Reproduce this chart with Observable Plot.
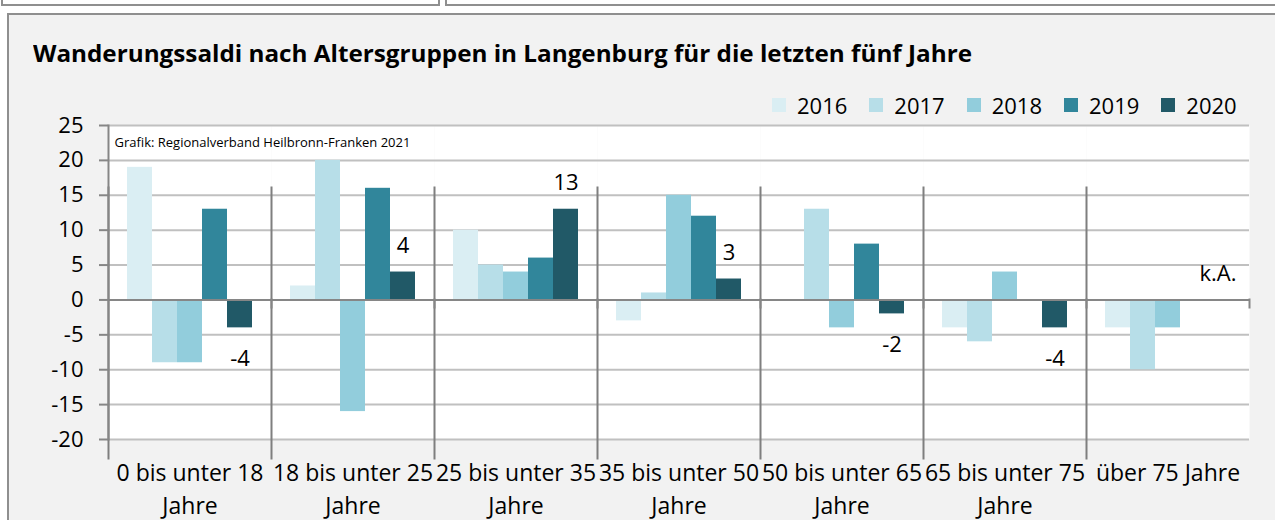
<!DOCTYPE html>
<html><head><meta charset="utf-8">
<script src="https://cdn.jsdelivr.net/npm/d3@7"></script>
<script src="https://cdn.jsdelivr.net/npm/@observablehq/plot@0.6"></script>
<style>
html,body{margin:0;padding:0;background:#fff;}
#root{position:relative;width:1275px;height:520px;overflow:hidden;font-family:"Open Sans",sans-serif;}
.topbox{position:absolute;top:-10px;height:12px;border:2px solid #8f8f8f;background:#fff;}
#chartbox{position:absolute;left:7px;top:13px;width:1290px;height:530px;border:2px solid #8f8f8f;background:#f2f2f2;}
#title{position:absolute;left:33px;top:42px;font-weight:bold;font-size:23px;line-height:1;white-space:nowrap;transform-origin:0 0;color:#000;}
#legend{position:absolute;left:772px;top:88px;width:600px;}
#plot{position:absolute;left:0;top:115px;}
</style></head><body>
<div id="root">
 <div class="topbox" style="left:1px;width:435px"></div>
 <div class="topbox" style="left:445px;width:840px"></div>
 <div id="chartbox"></div>
 <div id="title"></div>
 <div id="legend"></div>
 <div id="plot"></div>
</div>
<script>
const title = "Wanderungssaldi nach Altersgruppen in Langenburg für die letzten fünf Jahre";
const sourceNote = "Grafik: Regionalverband Heilbronn-Franken 2021";
const categories = ["0 bis unter 18 Jahre", "18 bis unter 25 Jahre", "25 bis unter 35 Jahre", "35 bis unter 50 Jahre", "50 bis unter 65 Jahre", "65 bis unter 75 Jahre", "über 75 Jahre"];
const categoryLabels = ["0 bis unter 18\nJahre", "18 bis unter 25\nJahre", "25 bis unter 35\nJahre", "35 bis unter 50\nJahre", "50 bis unter 65\nJahre", "65 bis unter 75\nJahre", "über 75 Jahre"];
const years = ["2016", "2017", "2018", "2019", "2020"];
const colors = ["#daeef3", "#b7dee8", "#92cddc", "#31869b", "#215967"];
const values2016 = [19, 2, 10, -3, 0, -4, -4];
const values2017 = [-9, 20, 5, 1, 13, -6, -10];
const values2018 = [-9, -16, 4, 15, -4, 4, -4];
const values2019 = [13, 16, 6, 12, 8, 0, null];
const values2020 = [-4, 4, 13, 3, -2, -4, null];
const yTicks = [-20, -15, -10, -5, 0, 5, 10, 15, 20, 25];
const noDataLabel = "k.A.";

const series = [values2016, values2017, values2018, values2019, values2020];
const rows = [];
categories.forEach((c, i) => years.forEach((yr, j) => {
  const v = series[j][i];
  if (v != null) rows.push({category: c, year: yr, value: v});
}));
const labelRows = categories.map((c, i) => ({
  category: c, year: "2020",
  y: values2020[i] == null ? 0 : values2020[i],
  text: values2020[i] == null ? noDataLabel : String(values2020[i])
}));

const font = "'Open Sans', sans-serif";

const plot = Plot.plot({
  width: 1275, height: 405,
  marginTop: 10, marginBottom: 81, marginLeft: 106, marginRight: 25,
  style: {background: "transparent", fontFamily: font, color: "#000", overflow: "visible"},
  fx: {domain: categories, padding: 0, axis: null},
  x: {domain: years, paddingInner: 0, paddingOuter: 0.75, axis: null},
  y: {domain: [-20, 25], axis: null},
  color: {domain: years, range: colors},
  marks: [
    Plot.frame({fill: "white", stroke: "none"}),
    Plot.ruleY(yTicks, {stroke: "#c0c0c0", strokeWidth: 2}),
    Plot.barY(rows, {fx: "category", x: "year", y: "value", fill: "year"}),
    Plot.ruleY([0], {stroke: "#868686", strokeWidth: 2}),
    Plot.frame({anchor: "left", stroke: "#7f7f7f", strokeWidth: 2, insetTop: 62, insetBottom: -19}),
    Plot.frame({anchor: "right", stroke: "#868686", strokeWidth: 2, insetTop: 174, insetBottom: 132}),
    Plot.frame({anchor: "left", facetAnchor: "left", stroke: "#868686", strokeWidth: 2}),
    Plot.axisY({ticks: yTicks, tickFormat: d => String(d), tickSize: 9, tickPadding: 16, fontSize: 22, stroke: "#868686", strokeWidth: 2, fill: "#000", label: null}),
    Plot.text(categories, {fx: d => d, text: d => categoryLabels[categories.indexOf(d)], frameAnchor: "bottom", lineAnchor: "top", dy: 18, fontSize: 23, lineHeight: 1.43, fill: "#000"}),
    Plot.text([{category: categories[0], text: sourceNote}], {fx: "category", text: "text", frameAnchor: "top-left", textAnchor: "start", dx: 6, dy: 12, fontSize: 13, fill: "#000"}),
    Plot.text(labelRows.filter(d => d.y >= 0), {fx: "category", x: "year", y: "y", text: "text", dy: -26, fontSize: 22, fill: "#000"}),
    Plot.text(labelRows.filter(d => d.y < 0), {fx: "category", x: "year", y: "y", text: "text", dy: 31, fontSize: 22, fill: "#000"})
  ]
});
document.getElementById("plot").appendChild(plot);

const legend = Plot.legend({
  color: {type: "ordinal", domain: years, range: colors},
  swatchSize: 14
});
legend.style.fontSize = "22px";
legend.style.fontFamily = font;
legend.style.color = "#000";
legend.style.margin = "0";
document.getElementById("legend").appendChild(legend);

const t = document.getElementById("title");
t.textContent = title;
const w = t.getBoundingClientRect().width;
t.style.transform = `scaleX(${939 / w})`;
</script>
</body></html>
